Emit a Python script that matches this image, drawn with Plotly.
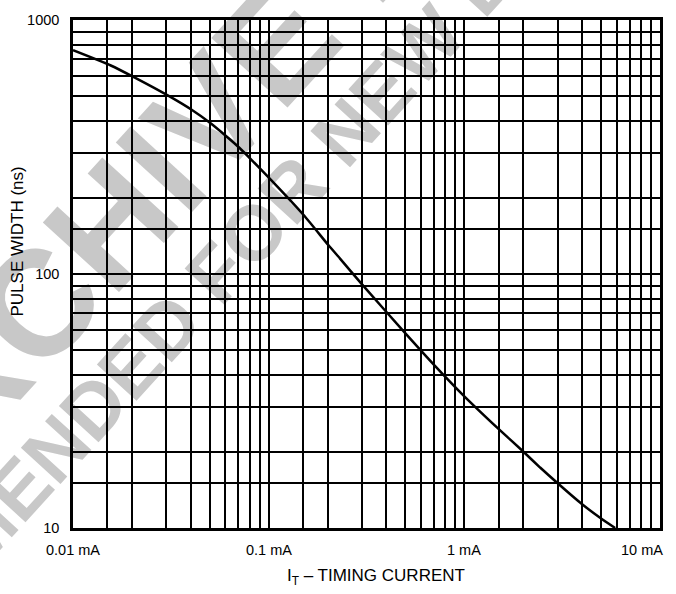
import numpy as np
import plotly.graph_objects as go

# ---- data ----
current_ma = [0.01, 0.0156, 0.0207, 0.0313, 0.0404, 0.0505, 0.0622, 0.0708, 0.0819,
              0.1016, 0.1517, 0.2018, 0.2316, 0.3, 0.5, 0.7, 1.0, 1.5, 2.0, 2.44,
              3.0, 4.0, 5.0, 5.9]
pulse_ns = [760, 662, 593, 499, 443, 392, 343, 314, 281,
            237, 170, 130, 115, 91, 58.4, 43.9, 33.0, 24.5, 20.0, 17.3,
            15.0, 12.4, 10.9, 10.0]

x_grid_vals = [0.01, 0.015, 0.02, 0.03, 0.04, 0.05, 0.06, 0.07, 0.08, 0.09,
               0.1, 0.15, 0.2, 0.3, 0.4, 0.5, 0.6, 0.7, 0.8, 0.9,
               1, 1.5, 2, 3, 4, 5, 6, 7, 8, 9, 10]
y_grid_vals = [10, 15, 20, 30, 40, 50, 60, 70, 80, 90,
               100, 150, 200, 300, 400, 500, 600, 700, 800, 900, 1000]

x_tick_vals = [0.01, 0.1, 1, 10]
x_tick_text = ["0.01 mA", "0.1 mA", "1 mA", "10 mA"]
y_tick_vals = [10, 100, 1000]
y_tick_text = ["10", "100", "1000"]

x_title = "I<sub>T</sub> – TIMING CURRENT"
y_title = "PULSE WIDTH (ns)"
watermark_1 = "ARCHIVE INFORMATION"
watermark_2 = "NOT RECOMMENDED FOR NEW DESIGN"

FONT = "Liberation Sans, Arial, Helvetica, sans-serif"
W, H = 676, 594
L, R, T, B = 73, 16, 12, 66
PW, PH = W - L - R, H - T - B


def px2paper(px, py):
    return (px - L) / PW, (H - B - py) / PH


fig = go.Figure()
fig.add_trace(go.Scatter(
    x=current_ma, y=pulse_ns, mode="lines",
    line=dict(color="black", width=2.5, shape="spline", smoothing=0.5),
    hoverinfo="skip"))

y_minor_vals = [v for v in y_grid_vals if v not in y_tick_vals]

axis_common = dict(type="log", ticks="", showgrid=True, gridcolor="black",
                   gridwidth=2.3, showline=True, linecolor="black", linewidth=2.5,
                   mirror=True, zeroline=False)
fig.update_xaxes(range=[np.log10(x_grid_vals[0]), np.log10(x_grid_vals[-1])],
                 tickmode="array", tickvals=x_grid_vals, showticklabels=False,
                 **axis_common)
fig.update_yaxes(range=[np.log10(y_grid_vals[0]), np.log10(y_grid_vals[-1])],
                 tickmode="array", tickvals=y_tick_vals, ticktext=y_tick_text,
                 ticklabelstandoff=8,
                 tickfont=dict(family=FONT, size=14.5, color="black"),
                 minor=dict(tickmode="array", tickvals=y_minor_vals, ticks="",
                            showgrid=True, gridcolor="black", gridwidth=2.3),
                 **axis_common)

annotations = []
for v, t in zip(x_tick_vals, x_tick_text):
    last = (v == x_tick_vals[-1])
    annotations.append(dict(
        x=np.log10(v), xref="x", y=0, yref="paper", text=t, showarrow=False,
        xanchor="right" if last else "center", yanchor="middle",
        xshift=5 if last else 0, yshift=-22,
        font=dict(family=FONT, size=14.5, color="black")))

tx, ty = px2paper(285, 578)
annotations.append(dict(x=tx, y=ty, xref="paper", yref="paper", text=x_title,
                        showarrow=False, xanchor="left", yanchor="middle",
                        font=dict(family=FONT, size=17, color="black")))
ax_, ay_ = px2paper(18, 237)
annotations.append(dict(x=ax_, y=ay_, xref="paper", yref="paper", text=y_title,
                        showarrow=False, textangle=-90, xanchor="center",
                        yanchor="middle",
                        font=dict(family=FONT, size=17, color="black")))

shapes = []
for text, (cx, cy), size in [(watermark_1, (439, -167), 150),
                             (watermark_2, (146, 337), 78)]:
    px_, py_ = px2paper(cx, cy)
    shapes.append(dict(
        type="rect", xref="paper", yref="paper",
        x0=px_ - 0.001, x1=px_ + 0.001, y0=py_ - 0.001, y1=py_ + 0.001,
        line=dict(width=0), fillcolor="rgba(0,0,0,0)", layer="below",
        label=dict(text="<b>" + text + "</b>", textangle=-47.6,
                   textposition="middle center",
                   font=dict(family=FONT, size=size, color="#c8c8c8"))))

fig.update_layout(width=W, height=H, margin=dict(l=L, r=R, t=T, b=B),
                  paper_bgcolor="white", plot_bgcolor="rgba(0,0,0,0)",
                  showlegend=False, annotations=annotations, shapes=shapes,
                  font=dict(family=FONT, size=14.5, color="black"))

fig.write_html("out.html", config={"displayModeBar": False},
               post_script="document.body.style.margin='0';"
                           "document.body.style.overflow='hidden';")
